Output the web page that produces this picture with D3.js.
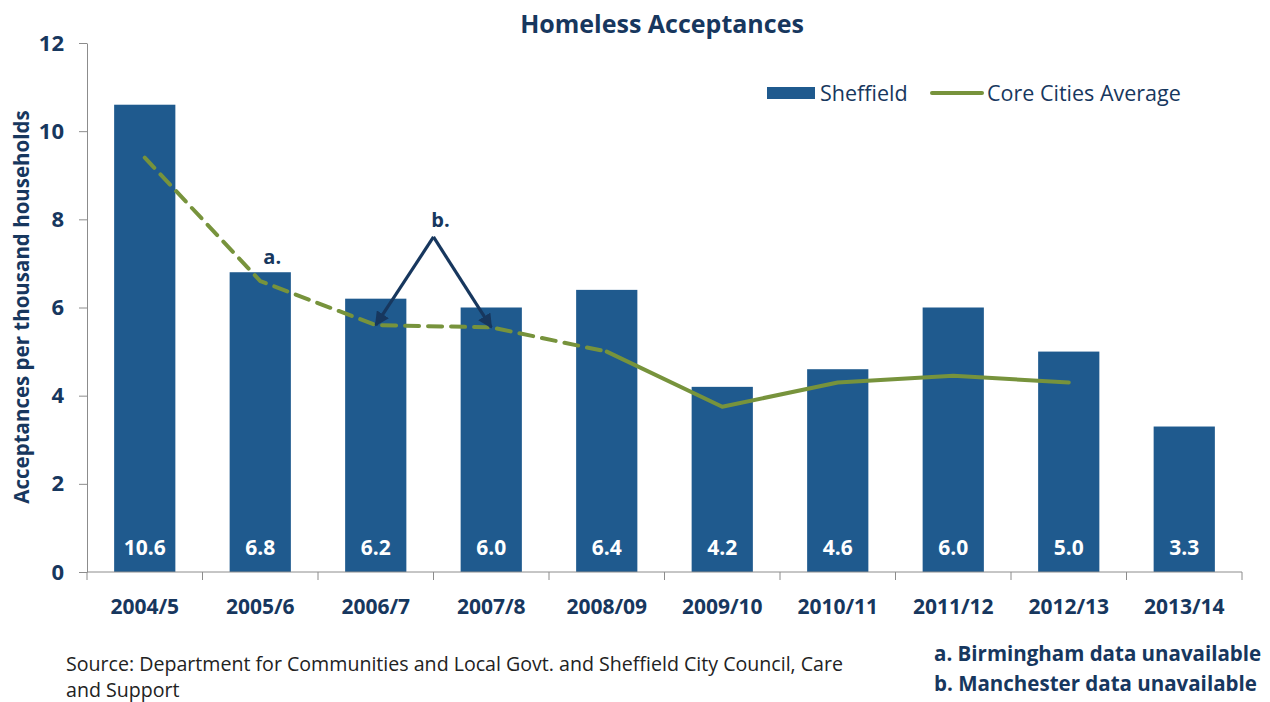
<!DOCTYPE html>
<html>
<head>
<meta charset="utf-8">
<script src="https://cdn.jsdelivr.net/npm/d3@7"></script>
<style>
  html, body { margin: 0; padding: 0; background: #fff; }
  svg { display: block; font-family: "Open Sans", sans-serif; }
</style>
</head>
<body>
<svg id="chart" width="1270" height="702"></svg>
<script>
// Homeless acceptances per thousand households
const categories = ["2004/5", "2005/6", "2006/7", "2007/8", "2008/09", "2009/10", "2010/11", "2011/12", "2012/13", "2013/14"];
const sheffield = [10.6, 6.8, 6.2, 6.0, 6.4, 4.2, 4.6, 6.0, 5.0, 3.3];
const coreCitiesAverage = [9.4, 6.6, 5.6, 5.55, 5.0, 3.75, 4.3, 4.45, 4.3, null];
// The first five points are drawn dashed (incomplete city coverage)
const dashedUntil = 4;
const yTicks = [0, 2, 4, 6, 8, 10, 12];
const notes = ["a. Birmingham data unavailable", "b. Manchester data unavailable"];
const sourceLines = ["Source: Department for Communities and Local Govt. and Sheffield City Council, Care", "and Support"];

const navy = "#17375E";
const barBlue = "#1F5A8E";
const green = "#77933C";
const axisGray = "#8C8C8C";

const svg = d3.select("#chart");
const plot = { left: 87, right: 1242, top: 43, bottom: 572 };

const x = d3.scaleBand().domain(categories).range([plot.left, plot.right])
  .paddingInner(0.47).paddingOuter(0.235);
const xCell = d3.scaleBand().domain(categories).range([plot.left, plot.right]).padding(0);
const y = d3.scaleLinear().domain([0, 12]).range([plot.bottom, plot.top]);
const cx = c => x(c) + x.bandwidth() / 2;

// Title
svg.append("text").attr("x", 662).attr("y", 33).attr("text-anchor", "middle")
  .attr("fill", navy).attr("font-weight", "bold").attr("font-size", 25)
  .text("Homeless Acceptances");

// Bars
svg.append("g").selectAll("rect").data(categories).join("rect")
  .attr("x", c => x(c)).attr("width", x.bandwidth())
  .attr("y", (c, i) => y(sheffield[i]))
  .attr("height", (c, i) => y(0) - y(sheffield[i]))
  .attr("fill", barBlue);

// Value labels inside the bars
svg.append("g").selectAll("text").data(categories).join("text")
  .attr("x", c => cx(c)).attr("y", y(0) - 17)
  .attr("text-anchor", "middle").attr("fill", "#fff")
  .attr("font-weight", "bold").attr("font-size", 21)
  .text((c, i) => sheffield[i].toFixed(1));

// Y axis
const yAxis = svg.append("g").attr("transform", `translate(${plot.left},0)`)
  .call(d3.axisLeft(y).tickValues(yTicks).tickSize(8).tickPadding(15).tickSizeOuter(0));
yAxis.select(".domain").attr("stroke", axisGray);
yAxis.selectAll(".tick line").attr("stroke", axisGray);
yAxis.selectAll(".tick text").attr("fill", navy).attr("font-weight", "bold")
  .attr("font-size", 22).attr("font-family", "'Open Sans', sans-serif");

// X axis: baseline with ticks at category boundaries
const xg = svg.append("g");
xg.append("line").attr("x1", plot.left).attr("x2", plot.right)
  .attr("y1", y(0)).attr("y2", y(0)).attr("stroke", axisGray);
const boundaries = categories.map(c => xCell(c)).concat([plot.right]);
xg.selectAll("line.tick").data(boundaries).join("line").attr("class", "tick")
  .attr("x1", d => d).attr("x2", d => d).attr("y1", y(0)).attr("y2", y(0) + 8)
  .attr("stroke", axisGray);
xg.selectAll("text").data(categories).join("text")
  .attr("x", c => cx(c)).attr("y", 614).attr("text-anchor", "middle")
  .attr("fill", navy).attr("font-weight", "bold").attr("font-size", 21)
  .text(c => c);

// Y axis title
svg.append("text").attr("transform", "translate(29,307) rotate(-90)")
  .attr("text-anchor", "middle").attr("fill", navy).attr("font-weight", "bold")
  .attr("font-size", 20.5).text("Acceptances per thousand households");

// Core cities average line: dashed segment then solid segment
const pts = categories.map((c, i) => ({ c, v: coreCitiesAverage[i], i })).filter(d => d.v != null);
const line = d3.line().x(d => cx(d.c)).y(d => y(d.v));
svg.append("path").datum(pts.filter(d => d.i <= dashedUntil))
  .attr("d", line).attr("fill", "none").attr("stroke", green)
  .attr("stroke-width", 4).attr("stroke-dasharray", "14,9").attr("stroke-linecap", "round");
svg.append("path").datum(pts.filter(d => d.i >= dashedUntil))
  .attr("d", line).attr("fill", "none").attr("stroke", green)
  .attr("stroke-width", 4).attr("stroke-linejoin", "round").attr("stroke-linecap", "round");

// Annotations
svg.append("defs").append("marker").attr("id", "arrowhead")
  .attr("viewBox", "0 0 10 10").attr("refX", 9).attr("refY", 5)
  .attr("markerWidth", 4.5).attr("markerHeight", 4.5).attr("orient", "auto")
  .attr("markerUnits", "strokeWidth")
  .append("path").attr("d", "M0,0 L10,5 L0,10 Z").attr("fill", navy);

svg.append("text").attr("x", cx("2005/6") + 12).attr("y", y(6.8) - 8)
  .attr("text-anchor", "middle").attr("fill", navy).attr("font-weight", "bold")
  .attr("font-size", 20).text("a.");

const apexX = (cx("2006/7") + cx("2007/8")) / 2;
const apexY = y(7.6);
svg.append("text").attr("x", apexX + 7).attr("y", apexY - 10)
  .attr("text-anchor", "middle").attr("fill", navy).attr("font-weight", "bold")
  .attr("font-size", 20).text("b.");
["2006/7", "2007/8"].forEach(c => {
  const i = categories.indexOf(c);
  svg.append("line").attr("x1", apexX).attr("y1", apexY)
    .attr("x2", cx(c)).attr("y2", y(coreCitiesAverage[i]))
    .attr("stroke", navy).attr("stroke-width", 3.2)
    .attr("marker-end", "url(#arrowhead)");
});

// Legend
const legend = svg.append("g");
legend.append("rect").attr("x", 767).attr("y", 87).attr("width", 48).attr("height", 12).attr("fill", barBlue);
legend.append("text").attr("x", 820).attr("y", 101).attr("fill", navy).attr("font-size", 21.5).text("Sheffield");
legend.append("line").attr("x1", 932).attr("x2", 982).attr("y1", 93).attr("y2", 93)
  .attr("stroke", green).attr("stroke-width", 4).attr("stroke-linecap", "round");
legend.append("text").attr("x", 987).attr("y", 101).attr("fill", navy).attr("font-size", 21.5).text("Core Cities Average");

// Source
svg.append("g").selectAll("text").data(sourceLines).join("text")
  .attr("x", 66).attr("y", (d, i) => 671 + i * 26)
  .attr("fill", "#222").attr("font-size", 19.6).text(d => d);

// Notes
svg.append("g").selectAll("text").data(notes).join("text")
  .attr("x", 934).attr("y", (d, i) => 661 + i * 30)
  .attr("fill", navy).attr("font-weight", "bold").attr("font-size", 20.5).text(d => d);
</script>
</body>
</html>
